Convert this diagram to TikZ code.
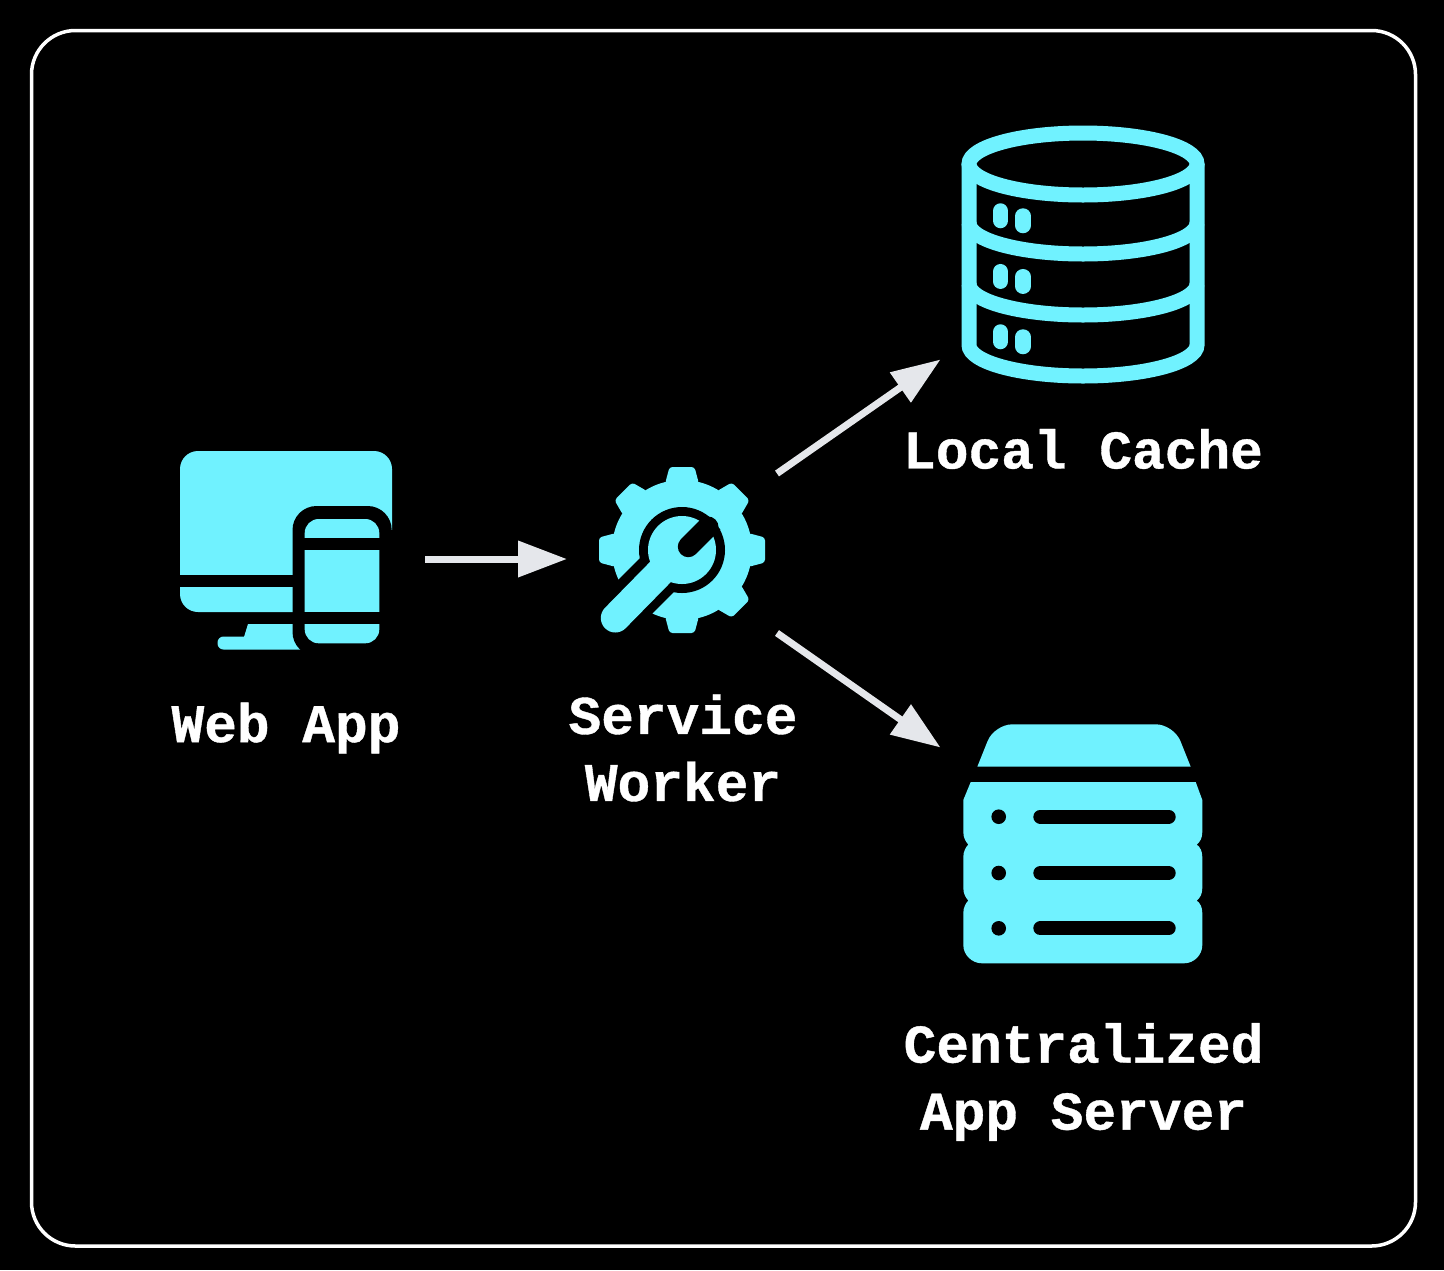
\documentclass[tikz,border=0pt]{standalone}
\usepackage{fontspec}
\setmonofont{Liberation Mono}[BoldFeatures={FakeBold=0.7}]
\usepackage{tikz}
\usetikzlibrary{arrows.meta}
\definecolor{myiron}{RGB}{229,231,235}
\definecolor{mycyan}{RGB}{112,242,255}
\tikzset{
  caption/.style={text=white, align=center, inner sep=0pt,
    font=\ttfamily\bfseries\fontsize{27.25}{33.5}\selectfont},
  iconbox/.style={rectangle, inner sep=0pt},
  arrow/.style={-{Triangle[length=24.5pt,width=17.5pt]}, line width=3.5pt, color=myiron},
  cacheline/.style={draw=mycyan, line width=7.5pt},
  slot/.style={draw=black, line width=7pt, line cap=round}
}
\newcommand{\cacheshelf}[1]{(969,#1) .. controls (969,#1+17.1) and (1020,#1+31) .. (1083,#1+31) .. controls (1146,#1+31) and (1197,#1+17.1) .. (1197,#1)}

\begin{document}
\begin{tikzpicture}[x=0.5pt, y=-0.5pt]
    \useasboundingbox (0,0) rectangle (1444,1270);
    \fill[black] (0,0) rectangle (1444,1270);
    \draw[white, line width=1.75pt, rounded corners=22pt] (31.5,30.5) rectangle (1415.5,1246);

    % Web App
    \node[iconbox, minimum width=106pt, minimum height=100pt] (webapp) at (286,550) {};
    \fill[mycyan, rounded corners=9pt] (180,451) rectangle (392,612);
    \fill[mycyan, rounded corners=3pt] (217.5,649.5) -- (217.5,636.5) -- (310,636.5) -- (310,649.5) -- cycle;
    \fill[mycyan] (244,637) -- (248,624) -- (310,624) -- (310,637) -- cycle;
    \fill[black] (180,575) rectangle (295,587);
    \fill[black, rounded corners=12pt] (292.5,506) rectangle (391.7,656);
    \fill[black] (380,530) rectangle (393,625);
    \fill[mycyan, rounded corners=7pt] (304.7,519) rectangle (379.3,643.3);
    \fill[black] (304,537.5) rectangle (380,550);
    \fill[black] (304,612) rectangle (380,624);

    % Service Worker
    \node[iconbox, minimum width=84pt, minimum height=84pt] (worker) at (682,550) {};
    \fill[mycyan] (worker.center) circle[radius=35pt];
    \foreach \a in {0,45,...,315} {
      \fill[mycyan, rounded corners=1.5pt, shift={(682,550)}, rotate=\a]
        (66,-17) -- (83,-12.5) -- (83,12.5) -- (66,17) -- cycle;
    }
    \fill[black] (worker.center) circle[radius=21.5pt];
    \draw[black, line width=24pt] (682,550) -- (612,620);
    \fill[mycyan] (worker.center) circle[radius=17pt];
    \draw[mycyan, line width=14.5pt, line cap=round] (682,550) -- (615.3,618);
    \draw[black, line width=10.5pt, line cap=round] (688.3,546.7) -- (708,527);
    \draw[black, line width=10.5pt] (708,527) -- (713,522);

    % Local Cache
    \node[iconbox, minimum width=121pt, minimum height=129pt] (cache) at (1083,255) {};
    \draw[cacheline] (1083,164) ellipse[x radius=57pt, y radius=15.5pt];
    \draw[cacheline] (969,164) -- \cacheshelf{345} -- (1197,164);
    \draw[cacheline] \cacheshelf{223};
    \draw[cacheline] \cacheshelf{284};
    \foreach \y in {0,60.7,121} {
      \draw[mycyan, line width=7.75pt, line cap=round] (1000.5,211+\y) -- (1000.5,220.5+\y);
      \draw[mycyan, line width=7.75pt, line cap=round] (1023,216+\y) -- (1023,225.5+\y);
    }

    % Centralized App Server
    \node[iconbox, minimum width=120pt, minimum height=120pt] (server) at (1083,844) {};
    \fill[mycyan] (977.3,766.7) [rounded corners=9pt] -- (994.3,724.3) -- (1173.7,724.3) [sharp corners] -- (1190.7,766.7) -- cycle;
    \fill[mycyan] (970.7,782) -- (1195.7,782) -- (1202.3,800) -- (1202.3,832)
      .. controls (1202.3,838) and (1200,842) .. (1196.7,844.5)
      .. controls (1200,847) and (1202.3,851) .. (1202.3,857) -- (1202.3,888)
      .. controls (1202.3,894) and (1200,898) .. (1196.7,900.5)
      .. controls (1200,903) and (1202.3,907) .. (1202.3,913) -- (1202.3,945)
      .. controls (1202.3,955) and (1194,963.3) .. (1184,963.3) -- (982,963.3)
      .. controls (972,963.3) and (963.3,955) .. (963.3,945) -- (963.3,913)
      .. controls (963.3,907) and (966,903) .. (968.3,900.5)
      .. controls (966,898) and (963.3,894) .. (963.3,888) -- (963.3,857)
      .. controls (963.3,851) and (966,847) .. (968.3,844.5)
      .. controls (966,842) and (963.3,838) .. (963.3,832) -- (963.3,800) -- cycle;
    \foreach \y in {816.7,873,928.3} {
      \fill[black] (998.7,\y) circle[radius=3.65pt];
      \draw[slot] (1040.3,\y) -- (1168.7,\y);
    }

    % Labels
    \node[caption] (weblabel) at (286,728) {Web App};
    \node[caption] (workerlabel) at (683,748) {Service\\Worker};
    \node[caption] (cachelabel) at (1083,449) {Local Cache};
    \node[caption] (serverlabel) at (1083.5,1082) {Centralized\\App Server};

    % Connectors
    \coordinate (webout) at (425,559);
    \coordinate (workerin) at (567,559);
    \coordinate (workerup) at (777,473.5);
    \coordinate (cachein) at (940.5,359.5);
    \coordinate (workerdown) at (777,633);
    \coordinate (serverin) at (940.5,747.5);
    \draw[arrow] (webout) -- (workerin);
    \draw[arrow] (workerup) -- (cachein);
    \draw[arrow] (workerdown) -- (serverin);
\end{tikzpicture}
\end{document}
